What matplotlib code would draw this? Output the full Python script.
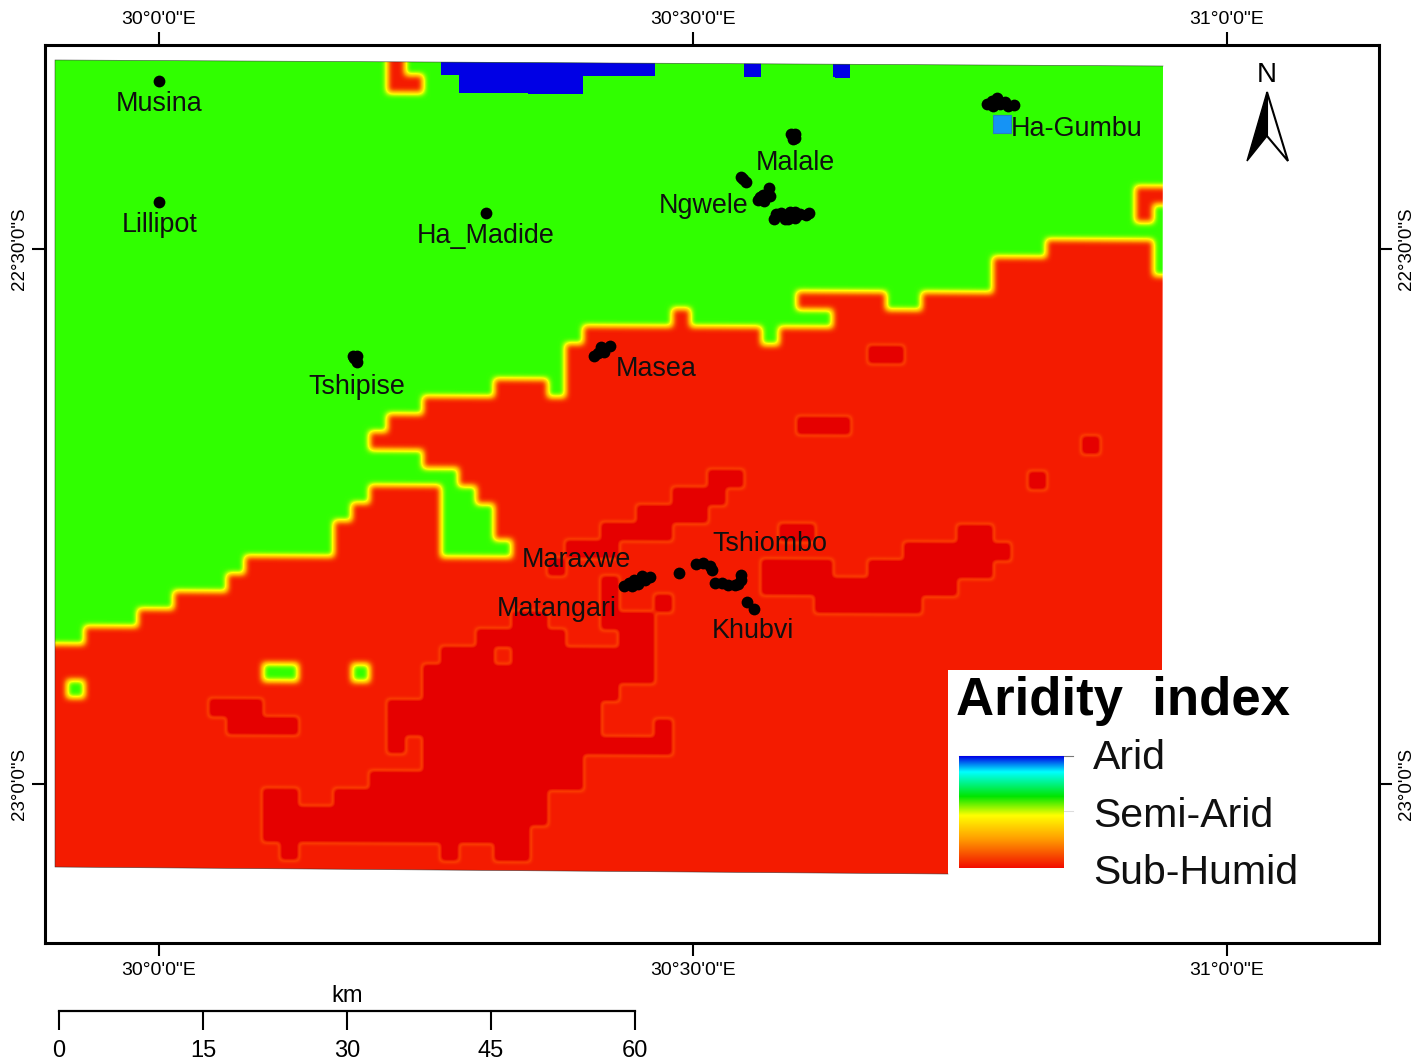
#!/usr/bin/env python3
"""Aridity index map with settlements, graticule, legend and scale bar."""

import numpy as np
import matplotlib
matplotlib.use('Agg')
import matplotlib.pyplot as plt
from matplotlib.colors import LinearSegmentedColormap
from matplotlib.patches import Polygon
from matplotlib.transforms import Affine2D

plt.rcParams['font.family'] = ['Liberation Sans', 'DejaVu Sans']

# raster rows, each token is "first column + class" (g green, r red, d dark red, b blue)
ARIDITY_ROWS = [
    "0g 19r 20g 22b 34g 39b 40g 44b 45g",
    "0g 19r 21g 23b 30g",
    "0g", "0g", "0g", "0g", "0g",
    "0g 61r",
    "0g 61r 62g",
    "0g",
    "0g 56r 62g",
    "0g 53r 62g",
    "0g 53r",
    "0g 42r 47g 49r",
    "0g 35r 36g 44r",
    "0g 30r 40g 41r",
    "0g 29r 46d 48r",
    "0g 29r",
    "0g 25r 28g 29r",
    "0g 21r",
    "0g 19r 42d 45r",
    "0g 18r 58d 59r",
    "0g 21r",
    "0g 23r 37d 39r 55d 56r",
    "0g 18r 22g 24r 35d 38r",
    "0g 17r 22g 25r 33d 37r",
    "0g 16r 22g 25r 31d 35r 41d 43r 51d 53r",
    "0g 16r 22g 26r 29d 32r 48d 54r",
    "0g 11r 28d 29r 40d 44r 46d 53r",
    "0g 10r 31d 32r 40d 51r",
    "0g 7r 31d 32r 34d 35r 43d 49r",
    "0g 5r 26d 28r 31d 34r",
    "0g 2r 24d 29r 32d 34r",
    "0r 22d 25r 26d 34r",
    "0r 12g 14r 17g 18r 21d 34r",
    "0r 1g 2r 21d 32r",
    "0r 9d 12r 19d 31r",
    "0r 10d 14r 19d 31r 34d 35r",
    "0r 19d 20r 21d 35r",
    "0r 21d 30r",
    "0r 18d 30r",
    "0r 12d 14r 16d 28r",
    "0r 12d 28r",
    "0r 12d 27r",
    "0r 13d 14r 22d 23r 25d 27r",
    "0r",
]
N_COLS = 63
CLASS_VALUES = {'g': 0.455, 'r': 0.90, 'd': 0.90, 'b': 0.0}

# settlement points (lon, lat)
TOWN_LON = [30.000, 30.000, 30.306,
            30.1816, 30.1854, 30.1854, 30.1826,
            30.407, 30.411, 30.414, 30.417, 30.422, 30.416,
            30.5918, 30.5955, 30.5936, 30.5955,
            30.545, 30.5496, 30.547,
            30.561, 30.566, 30.571, 30.5665, 30.5721, 30.563,
            30.5758, 30.5777, 30.5824, 30.5861, 30.5890, 30.5908, 30.5955, 30.5955, 30.6002, 30.6058, 30.6086,
            30.7753, 30.7800, 30.7809, 30.7846, 30.7875, 30.7921, 30.7949, 30.8006,
            30.4354, 30.4401, 30.4429, 30.4448, 30.4485, 30.4522, 30.4551, 30.4597,
            30.487,
            30.5028, 30.5094, 30.5159, 30.5178,
            30.5206, 30.5271, 30.5328, 30.5393, 30.5421, 30.5449, 30.5449,
            30.551, 30.557]
TOWN_LAT = [-22.343, -22.456, -22.466,
            -22.600, -22.600, -22.6056, -22.6019,
            -22.600, -22.597, -22.592, -22.596, -22.591, -22.594,
            -22.3925, -22.3925, -22.3972, -22.3963,
            -22.4327, -22.4374, -22.4346,
            -22.454, -22.450, -22.443, -22.4551, -22.4505, -22.451,
            -22.4720, -22.4673, -22.4664, -22.4720, -22.4720, -22.4654, -22.4710, -22.4654, -22.4673, -22.4682, -22.4664,
            -22.3645, -22.3617, -22.3664, -22.3589, -22.3645, -22.3626, -22.3664, -22.3654,
            -22.8150, -22.8121, -22.8150, -22.8093, -22.8131, -22.8056, -22.8093, -22.8065,
            -22.803,
            -22.7944, -22.7935, -22.7963, -22.8000,
            -22.8121, -22.8121, -22.8140, -22.8140, -22.8131, -22.8093, -22.8047,
            -22.830, -22.836]
STATION_LON = [30.789]
STATION_LAT = [-22.383]

TOWN_NAMES = ['Musina', 'Lillipot', 'Ha_Madide', 'Tshipise', 'Masea', 'Malale', 'Ngwele',
              'Ha-Gumbu', 'Maraxwe', 'Tshiombo', 'Matangari', 'Khubvi']
NAME_X = [159, 160, 486, 357, 656, 795, 704, 1077, 576, 770, 557, 753]
NAME_Y = [104, 225, 236, 387, 369, 163, 206, 129, 560, 544, 609, 631]

LON_TICKS = [30.0, 30.5, 31.0]
LON_LABELS = ['30°0\'0"E', '30°30\'0"E', '31°0\'0"E']
LAT_TICKS = [-22.5, -23.0]
LAT_LABELS = ['22°30\'0"S', '23°0\'0"S']

LEGEND_LABELS = ['Arid', 'Semi-Arid', 'Sub-Humid']
SCALE_KM = [0, 15, 30, 45, 60]

W, H = 1427, 1061
PX_PER_DEG_X = 1068.0
PX_PER_DEG_Y = 1070.0


def lon_of(px):
    return 30.0 + (px - 159) / PX_PER_DEG_X


def lat_of(py):
    return -22.5 - (py - 249) / PX_PER_DEG_Y


def build_raster():
    grid = np.zeros((len(ARIDITY_ROWS), N_COLS), dtype='U1')
    for r, row in enumerate(ARIDITY_ROWS):
        tokens = row.split()
        for i, tok in enumerate(tokens):
            start = int(tok[:-1])
            end = int(tokens[i + 1][:-1]) if i + 1 < len(tokens) else N_COLS
            grid[r, start:end] = tok[-1]
    return grid


fig = plt.figure(figsize=(W / 100, H / 100), dpi=100, facecolor='white')
ax = fig.add_axes([45 / W, (H - 943) / H, (1379 - 45) / W, (943 - 45) / H])

colors = [(0.0, (0, 0, 0.90)), (0.2, (0, 1, 1)), (0.42, (0, 1, 0)), (0.6, (1, 1, 0)),
          (0.76, (1, 0.6, 0)), (0.90, (0.96, 0.11, 0)), (1.0, (0.90, 0, 0))]
cmap = LinearSegmentedColormap.from_list('aridity', colors, N=512)
# dark patches fade in through a thin orange rim
dark_cmap = LinearSegmentedColormap.from_list(
    'dark', [(0.0, (1, 0.35, 0, 0)), (0.25, (1, 0.33, 0, 0.55)), (0.75, (0.90, 0, 0, 1)), (1.0, (0.90, 0, 0, 1))], N=256)
ramp_cmap = LinearSegmentedColormap.from_list(
    'ramp', [(0.0, (0, 0, 0.90)), (0.14, (0, 1, 1)), (0.36, (0, 0.9, 0)), (0.53, (1, 1, 0)),
             (0.75, (1, 0.6, 0)), (1.0, (0.95, 0.05, 0))], N=256)

grid = build_raster()
values = np.vectorize(lambda c: CLASS_VALUES[c])(grid)

# base layer has no blue, blue goes on top with hard edges
base = np.where(grid == 'b', CLASS_VALUES['g'], values)
base = np.repeat(np.repeat(base, 3, axis=0), 3, axis=1)
blue = np.ma.masked_where(grid != 'b', values)
dark = (grid == 'd').astype(float)
dark = np.repeat(np.repeat(dark, 4, axis=0), 4, axis=1)

cell = 17.8
row_h = 17.85
top = 57.0
extent = (lon_of(48.9), lon_of(48.9 + cell * N_COLS),
          lat_of(top + row_h * len(ARIDITY_ROWS)), lat_of(top))

# scan of the map sits slightly rotated on the page
tilt = 0.006 * PX_PER_DEG_X / PX_PER_DEG_Y
shear = Affine2D.from_values(1, -tilt, 0, 1, 0, tilt * lon_of(400))

corners = [(55, 60), (1163, 66), (1162, 670), (948, 670), (948, 874), (55, 867)]
clip = Polygon([(lon_of(x), lat_of(y)) for x, y in corners], closed=True,
               transform=ax.transData, fill=False, ec='none')
ax.add_patch(clip)

layers = [(base, cmap, 'bicubic'), (dark, dark_cmap, 'bicubic'), (blue, cmap, 'nearest')]
for layer, layer_cmap, interp in layers:
    im = ax.imshow(layer, cmap=layer_cmap, vmin=0, vmax=1, extent=extent, aspect='auto',
                   interpolation=interp, interpolation_stage='data', origin='upper', zorder=2)
    im.set_transform(shear + ax.transData)
    im.set_clip_path(clip)
ax.set_xlim(lon_of(45), lon_of(1379))
ax.set_ylim(lat_of(943), lat_of(45))

# thin edge left by the scan on top, left and bottom sides
edge_x = [lon_of(x) for x, y in [corners[1], corners[0], corners[5], corners[4]]]
edge_y = [lat_of(y) for x, y in [corners[1], corners[0], corners[5], corners[4]]]
ax.plot(edge_x, edge_y, color='#2a2a2a', lw=0.5, alpha=0.7, zorder=3)

ax.scatter(TOWN_LON, TOWN_LAT, s=72, c='black', linewidths=0, zorder=4)
ax.scatter(STATION_LON, STATION_LAT, s=150, marker='s', c='#1593f5', edgecolors='#2a7fc0',
           linewidths=0.8, zorder=4)

for s in ax.spines.values():
    s.set_linewidth(2.2)
ax.set_xticks(LON_TICKS)
ax.set_xticklabels(LON_LABELS)
ax.set_yticks(LAT_TICKS)
ax.set_yticklabels(LAT_LABELS, rotation=90, va='center')
ax.tick_params(axis='both', length=9.5, width=1.5, pad=4, top=True, right=True)
ax.tick_params(axis='x', labelsize=14, pad=4.5)
ax.tick_params(axis='y', labelsize=13.5, pad=2.5)

# page overlay in pixels for labels and north arrow
over = fig.add_axes([0, 0, 1, 1], facecolor='none')
over.set_xlim(0, W)
over.set_ylim(H, 0)
over.axis('off')

for label, tick in zip(LON_LABELS, LON_TICKS):
    over.text(159 + (tick - 30.0) * PX_PER_DEG_X, 20, label, fontsize=14, ha='center', va='center')
for label, tick in zip(LAT_LABELS, LAT_TICKS):
    over.text(1407, 249 + (-22.5 - tick) * PX_PER_DEG_Y, label, fontsize=13.5, rotation=90,
              ha='center', va='center')

for name, x, y in zip(TOWN_NAMES, NAME_X, NAME_Y):
    over.text(x, y, name, fontsize=19.4, ha='center', va='center', color='#101010')

over.text(1267, 75, 'N', fontsize=20, ha='center', va='center')
over.add_patch(Polygon([(1267, 92), (1288, 161), (1267, 136)], closed=True, fc='white', ec='black', lw=1.5))
over.add_patch(Polygon([(1267, 92), (1247, 161), (1267, 136)], closed=True, fc='black', ec='black', lw=1.0))

over.text(956, 701, 'Aridity  index', fontsize=38, fontweight='bold', ha='left', va='center')
for label, y in zip(LEGEND_LABELS, [758, 816, 873]):
    over.text(1093, y, label, fontsize=29.5, ha='left', va='center', color='#101010')
over.plot([959, 1073], [756, 756], color='#777777', lw=0.8)
over.plot([1064, 1073], [811, 811], color='#dddddd', lw=0.8)

# legend ramp
ramp = fig.add_axes([959 / W, (H - 868) / H, (1064 - 959) / W, (868 - 756) / H])
ramp.imshow(np.linspace(0, 1, 256)[:, None], cmap=ramp_cmap, vmin=0, vmax=1, aspect='auto')
ramp.axis('off')

# scale bar in km
bar = fig.add_axes([59 / W, (H - 1030) / H, (635 - 59) / W, (1030 - 1011) / H], facecolor='none')
bar.set_xlim(SCALE_KM[0], SCALE_KM[-1])
bar.set_ylim(0, 1)
for s in ['left', 'right', 'bottom']:
    bar.spines[s].set_visible(False)
bar.spines['top'].set_linewidth(1.6)
bar.patch.set_visible(False)
bar.set_yticks([])
bar.set_xticks(SCALE_KM)
bar.tick_params(axis='x', direction='in', length=13.7, width=1.5, labelsize=17, pad=7)
bar.set_xlim(SCALE_KM[0], SCALE_KM[-1])
over.text(347, 996, 'km', fontsize=17, ha='center', va='center')

fig.savefig('out.png', dpi=100, facecolor='white')
